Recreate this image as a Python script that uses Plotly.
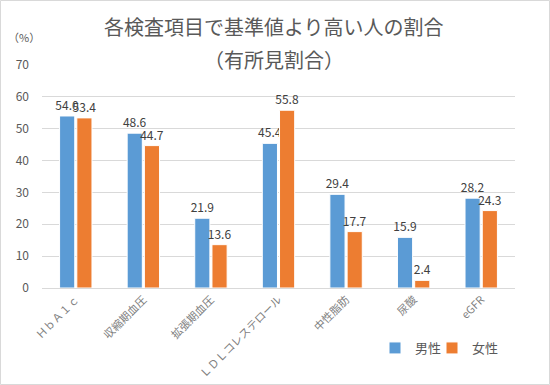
import plotly.graph_objects as go

categories = ["ＨｂＡ１ｃ", "収縮期血圧", "拡張期血圧", "ＬＤＬコレステロール", "中性脂肪", "尿酸", "eGFR"]
male = [54.0, 48.6, 21.9, 45.4, 29.4, 15.9, 28.2]
female = [53.4, 44.7, 13.6, 55.8, 17.7, 2.4, 24.3]
series_names = ["男性", "女性"]
yticks = [0, 10, 20, 30, 40, 50, 60, 70]

W, H = 550, 385
L, R, T, B = 42, 35, 65, 97
pw, ph = W - L - R, H - T - B

FONT = "Noto Sans CJK JP, Noto Sans, sans-serif"
GRAY = "#595959"

fig = go.Figure()
for name, vals, col, lg in [(series_names[0], male, "#5B9BD5", "legend"),
                            (series_names[1], female, "#ED7D31", "legend2")]:
    fig.add_trace(go.Bar(
        x=categories, y=vals, name=name, legend=lg,
        marker=dict(color=col, line=dict(color="white", width=1)),
        text=[f"{v:.1f}" for v in vals], textposition="outside",
        constraintext="none", cliponaxis=False,
        textfont=dict(family=FONT, size=12, color="#404040"),
    ))

leg_common = dict(orientation="h", xanchor="left", yanchor="middle",
                  font=dict(size=13, color=GRAY), itemwidth=30, bgcolor="rgba(0,0,0,0)")
fig.update_layout(
    width=W, height=H,
    margin=dict(l=L, r=R, t=T, b=B, autoexpand=False),
    paper_bgcolor="white", plot_bgcolor="white",
    barmode="group", bargap=0.49, bargroupgap=0.12,
    font=dict(family=FONT, color=GRAY),
    showlegend=True,
    legend=dict(x=(375 - L) / pw, y=(H - 348 - B) / ph, **leg_common),
    legend2=dict(x=(432 - L) / pw, y=(H - 348 - B) / ph, **leg_common),
    xaxis=dict(tickangle=-45, tickfont=dict(size=11, color="#7F7F7F"), showgrid=False,
               showline=True, linecolor="#D9D9D9", ticks="", automargin=False),
    yaxis=dict(range=[0, 70], tickvals=yticks, tickfont=dict(size=12, color=GRAY),
               showgrid=True, gridcolor="#D9D9D9", gridwidth=1, zeroline=False,
               showline=False, ticks="", ticklabelstandoff=12, automargin=False),
)

fig.add_annotation(text="各検査項目で基準値より高い人の割合", xref="paper", yref="paper",
                   x=(274 - L) / pw, y=(H - 27 - B) / ph, showarrow=False,
                   xanchor="center", yanchor="middle", font=dict(size=20, color=GRAY))
fig.add_annotation(text="（有所見割合）", xref="paper", yref="paper",
                   x=(274 - L) / pw, y=(H - 60 - B) / ph, showarrow=False,
                   xanchor="center", yanchor="middle", font=dict(size=20, color=GRAY))
fig.add_annotation(text="（%）", xref="paper", yref="paper",
                   x=(24 - L) / pw, y=(H - 37 - B) / ph, showarrow=False,
                   xanchor="center", yanchor="middle", font=dict(size=11, color=GRAY))

fig.add_shape(type="rect", xref="paper", yref="paper",
              x0=(0.5 - L) / pw, x1=(W - 0.5 - L) / pw,
              y0=(-B + 0.5) / ph, y1=(H - B - 0.5) / ph,
              line=dict(color="#D9D9D9", width=1), layer="below")

fig.write_html("out.html", config={"displayModeBar": False},
               post_script="document.body.style.margin='0';document.body.style.overflow='hidden';")
